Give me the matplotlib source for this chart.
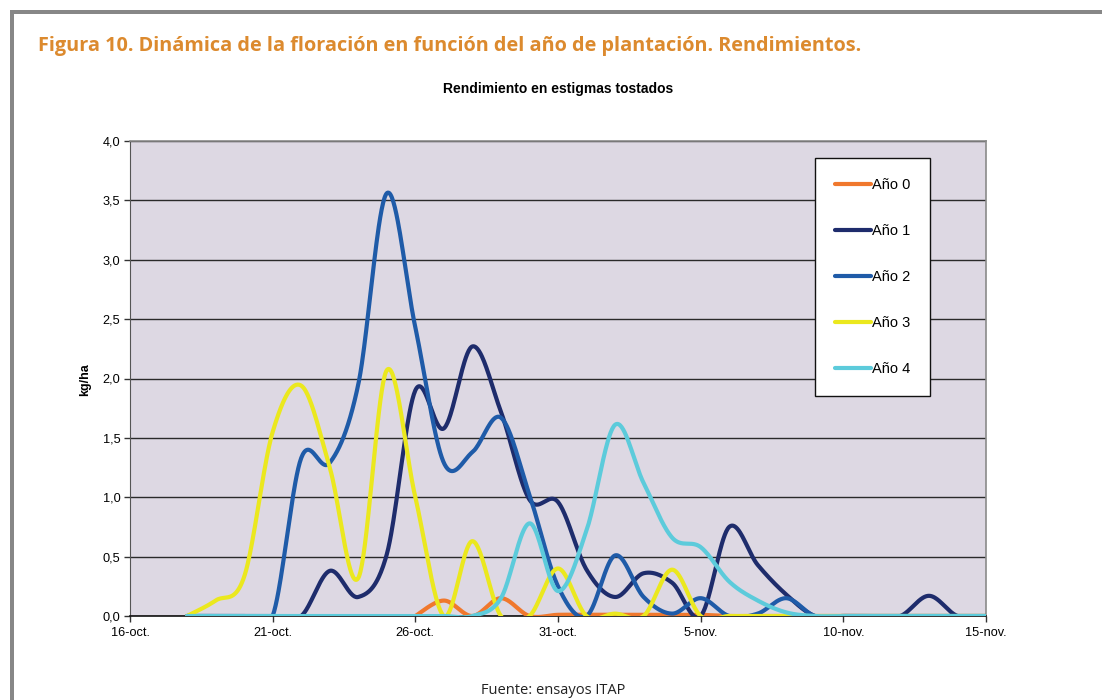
import numpy as np
import matplotlib
matplotlib.use("Agg")
import matplotlib.pyplot as plt
from matplotlib.patches import Rectangle

# days counted from 16-oct.
dias = np.arange(2, 31)          # 18-oct. .. 15-nov.
ticks_dia = [0, 5, 10, 15, 20, 25, 30]
ticks_txt = ["16-oct.", "21-oct.", "26-oct.", "31-oct.", "5-nov.", "10-nov.", "15-nov."]

nan = np.nan
ano0 = [nan, nan, nan, nan, nan, nan, nan, nan, 0.0, 0.13, 0.0, 0.15, 0.0, 0.01,
        0.01, 0.01, 0.01, 0.01, 0.01, 0.0, 0.0, 0.0, 0.0, 0.0, 0.0, 0.0, 0.0, 0.0, 0.0]
ano1 = [0.0, 0.0, 0.0, 0.0, 0.0, 0.38, 0.16, 0.52, 1.90, 1.58, 2.27, 1.72, 0.98, 0.96,
        0.39, 0.16, 0.36, 0.28, 0.0, 0.75, 0.43, 0.18, 0.0, 0.0, 0.0, 0.0, 0.17, 0.0, 0.0]
ano2 = [0.0, 0.0, 0.0, 0.0, 1.33, 1.29, 1.95, 3.56, 2.43, 1.29, 1.38, 1.67, 1.02, 0.25,
        0.0, 0.51, 0.16, 0.02, 0.15, 0.0, 0.02, 0.15, 0.0, 0.0, 0.0, 0.0, 0.0, 0.0, 0.0]
ano3 = [0.0, 0.13, 0.33, 1.55, 1.94, 1.25, 0.32, 2.07, 1.00, 0.0, 0.63, 0.0, 0.0, 0.40,
        0.0, 0.02, 0.0, 0.39, 0.0, 0.0, 0.0, 0.0, 0.0, 0.0, 0.0, 0.0, 0.0, 0.0, 0.0]
ano4 = [0.0, 0.0, 0.0, 0.0, 0.0, 0.0, 0.0, 0.0, 0.0, 0.0, 0.0, 0.15, 0.78, 0.21,
        0.72, 1.61, 1.12, 0.66, 0.58, 0.29, 0.13, 0.03, 0.0, 0.0, 0.0, 0.0, 0.0, 0.0, 0.0]

series = [ano0, ano1, ano2, ano3, ano4]
nombres = ["Año 0", "Año 1", "Año 2", "Año 3", "Año 4"]
colores = ["#f0782d", "#1e2c6c", "#1f5ba8", "#ebe81e", "#5ccbdb"]


def excel_smooth(x, y, n=40):
    # bezier smoothing like the spreadsheet "smoothed line"
    p = np.column_stack([x, y]).astype(float)
    ext = np.vstack([p[0], p, p[-1]])
    t = np.linspace(0, 1, n)[:, None]
    out = []
    for i in range(len(p) - 1):
        p0, p1, p2, p3 = ext[i], ext[i + 1], ext[i + 2], ext[i + 3]
        c1 = p1 + (p2 - p0) / 6
        c2 = p2 - (p3 - p1) / 6
        seg = ((1 - t) ** 3) * p1 + 3 * ((1 - t) ** 2) * t * c1 \
            + 3 * (1 - t) * t ** 2 * c2 + t ** 3 * p2
        out.append(seg if i == 0 else seg[1:])
    s = np.vstack(out)
    return s[:, 0], s[:, 1]


fig = plt.figure(figsize=(11.02, 7.0), dpi=100)
fig.patch.set_facecolor("white")

# grey frame of the page
fig.add_artist(Rectangle((10 / 1102, 1 - 14 / 700), 1 - 10 / 1102, 4 / 700,
                         transform=fig.transFigure, color="#878787", lw=0))
fig.add_artist(Rectangle((10 / 1102, 0), 4 / 1102, 1 - 10 / 700,
                         transform=fig.transFigure, color="#878787", lw=0))

fig.text(38 / 1102, 1 - 46 / 700,
         "Figura 10. Dinámica de la floración en función del año de plantación. Rendimientos.",
         fontsize=14.3, fontweight="bold", color="#dc8a2e", family="Open Sans",
         va="center", ha="left")

ax = fig.add_axes([130 / 1102, 84 / 700, 856 / 1102, 475 / 700])
ax.set_facecolor("#ddd8e3")

for vals, nom, col in zip(series, nombres, colores):
    v = np.array(vals, dtype=float)
    m = ~np.isnan(v)
    xs, ys = excel_smooth(dias[m], v[m])
    ax.plot(xs, ys, color=col, lw=3.0, label=nom, solid_capstyle="round", zorder=3)

ax.set_xlim(0, 30)
ax.set_ylim(0, 4.0)
ax.set_yticks(np.arange(0, 4.01, 0.5))
ax.set_yticklabels([f"{v:.1f}".replace(".", ",") for v in np.arange(0, 4.01, 0.5)])
ax.set_xticks(ticks_dia)
ax.set_xticklabels(ticks_txt)
ax.grid(axis="y", color="#2a2a2a", lw=1.0, zorder=1)
ax.set_axisbelow(True)
ax.tick_params(axis="both", labelsize=9.2, length=4, width=1, color="#333333",
               direction="out", pad=3)
ax.tick_params(axis="x", pad=4)
for t in ax.get_xticklabels() + ax.get_yticklabels():
    t.set_family("Liberation Sans")
for side in ["top", "right"]:
    ax.spines[side].set_color("#8a8a8a")
    ax.spines[side].set_linewidth(1.2)
ax.spines["left"].set_color("#555555")
ax.spines["bottom"].set_color("#111111")
ax.spines["bottom"].set_linewidth(1.2)

fig.text(558 / 1102, 1 - 89 / 700, "Rendimiento en estigmas tostados",
         fontsize=10, fontweight="bold", family="Liberation Sans", ha="center", va="center")
fig.text(85 / 1102, 1 - 380 / 700, "kg/ha", fontsize=9, fontweight="bold",
         family="Liberation Sans", rotation=90, ha="center", va="center")

leg = ax.legend(loc="upper left", bbox_to_anchor=(815 / 1102, 1 - 158 / 700),
                bbox_transform=fig.transFigure, borderaxespad=0, fancybox=False,
                frameon=True, edgecolor="#111111", framealpha=1, handlelength=2.5,
                handletextpad=0.05, labelspacing=2.2, borderpad=1.35,
                prop={"family": "Liberation Sans", "size": 10.5})
leg.get_frame().set_linewidth(1.0)
for h in leg.get_lines():
    h.set_linewidth(3.0)

fig.text(553 / 1102, 1 - 690 / 700, "Fuente: ensayos ITAP", fontsize=10.5,
         family="Open Sans", ha="center", va="center", color="#222222")

fig.savefig("out.png", dpi=100, facecolor="white")
